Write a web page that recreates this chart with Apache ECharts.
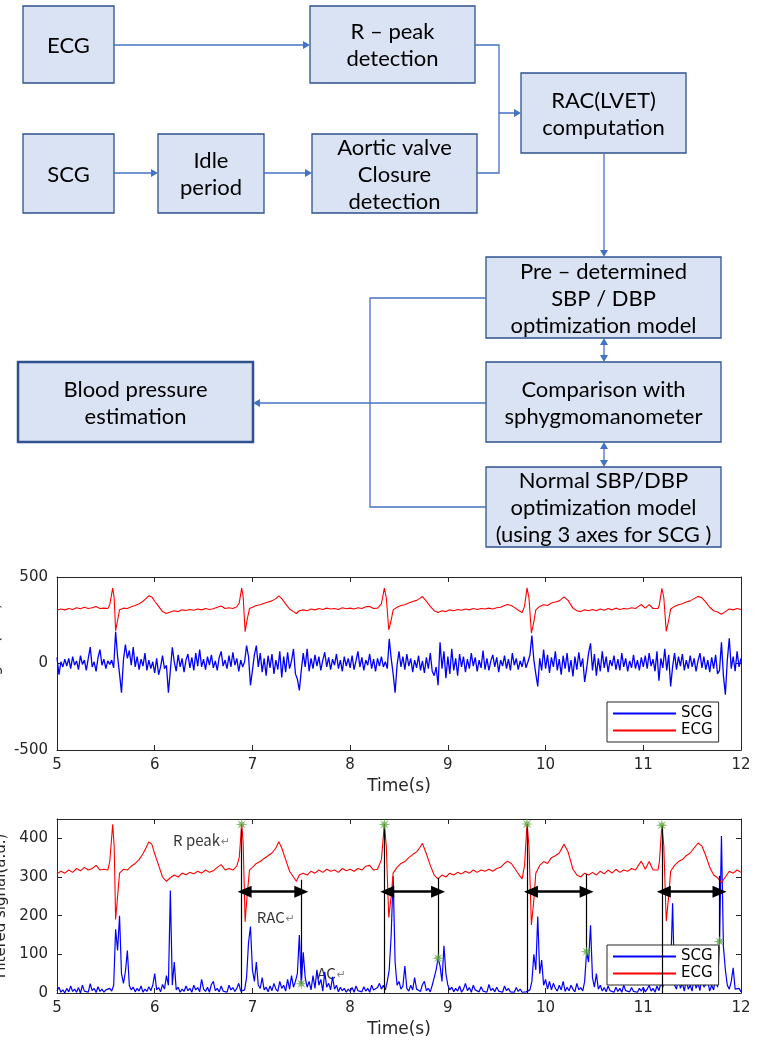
<!DOCTYPE html>
<html>
<head>
<meta charset="utf-8">
<script src="https://cdn.jsdelivr.net/npm/echarts@6/dist/echarts.min.js"></script>
<style>
  html, body { margin: 0; padding: 0; background: #fff; }
  #main { width: 758px; height: 1040px; }
</style>
</head>
<body>
<div id="main"></div>
<script>
// ---- data ----
// SCG is sampled every 0.02 s from t = 5 s
const sampleStart = 5;
const samplePeriod = 0.02;

// raw SCG (upper panel)
const scgRaw = [
  35,-65,10,-20,25,-15,30,-30,40,-10,15,-35,45,-5,20,-40,30,95,-20,10,-45,35,80,-10,25,
  -30,15,-5,20,-25,184,40,-60,-169,20,110,30,75,-10,95,-20,40,-35,25,-15,60,-40,20,-30,10,
  -55,30,-65,-20,45,-30,-10,-169,-40,94,10,-45,50,-20,30,-50,20,55,-25,35,-40,60,-15,80,-20,
  25,-35,40,-10,50,-25,15,-40,35,70,-15,20,-30,45,-20,65,-10,30,-45,20,-20,10,103,40,-126,
  -40,50,103,-20,60,-50,30,-70,45,-25,55,-60,20,-35,70,-80,40,-50,65,-30,15,84,-60,-90,-155,
  -40,60,-20,85,-45,30,-30,50,-15,40,-40,20,65,-20,35,-35,25,-10,55,-30,20,-45,40,-15,30,
  -25,45,-35,15,70,-20,35,-40,20,-10,55,-30,25,-45,30,-15,40,-20,10,-30,142,30,-60,-169,-10,
  70,-20,40,-35,55,-15,30,-50,20,-25,45,-40,15,-55,35,-30,60,-45,-70,-20,-126,123,-30,70,-85,
  40,-60,85,-40,30,-70,55,-20,40,-50,25,-30,60,-15,35,-45,20,-25,75,-35,30,-40,15,50,-20,
  35,-50,20,-15,45,-30,25,-40,60,-10,30,-35,15,-20,40,-25,10,50,161,20,-60,-132,30,-40,80,
  -30,50,-55,35,-20,70,-40,25,-65,45,-30,60,-50,20,-75,40,-35,65,-20,30,-107,-30,60,117,-40,
  55,-70,30,-45,70,-25,40,-50,20,-15,45,-35,25,-40,60,-20,30,-45,15,-25,50,-30,20,-40,35,
  -20,45,-30,60,-15,25,-45,70,-100,30,-25,85,-40,50,-132,-20,60,-35,40,-15,55,-40,20,-30,45,
  -20,30,-45,15,60,-25,40,-35,20,-50,35,-30,50,-60,-40,123,-70,-180,20,146,-30,40,-45,70,-20,
  30
];

// filtered SCG (lower panel)
const scgFiltered = [
  5,15,2,8,0,12,3,18,4,10,2,14,0,20,5,9,2,24,6,12,1,16,4,10,2,
  8,3,12,5,20,165,110,200,50,25,55,110,20,8,15,3,12,5,18,2,10,4,16,6,20,
  50,8,14,3,22,10,45,20,265,20,80,8,15,2,10,4,18,6,12,2,20,8,14,3,35,
  10,4,15,2,22,30,6,12,3,18,5,10,2,20,8,14,4,12,25,5,2,8,40,130,172,
  60,30,80,20,12,40,8,15,3,18,6,25,10,4,30,12,20,5,35,10,45,15,30,50,150,
  24,105,40,15,30,8,45,12,60,20,35,5,55,15,25,8,42,10,20,3,15,6,12,2,10,
  4,14,2,18,6,10,3,16,5,12,2,20,8,4,14,25,10,20,8,30,60,150,302,80,20,
  30,10,18,70,12,5,20,8,40,10,15,4,22,30,6,12,3,20,40,60,90,70,30,122,50,
  20,8,15,3,12,5,18,2,10,25,6,14,2,20,8,12,3,16,5,10,2,22,6,12,3,
  15,5,10,2,18,6,12,3,8,2,14,4,10,2,6,3,8,8,30,100,60,198,50,85,20,
  35,10,30,8,25,12,5,20,8,30,4,15,6,20,10,3,25,8,14,5,30,107,80,175,40,
  15,50,10,20,5,14,3,18,6,10,2,15,4,12,2,20,6,10,3,14,4,8,2,12,5,
  15,3,10,20,5,12,2,18,6,25,15,40,80,30,60,232,20,10,40,12,25,5,35,10,20,
  5,45,12,25,6,50,15,10,30,5,20,8,40,15,133,406,120,60,20,10,30,65,10,5,12,
  3
];

// ECG [time, value], same trace in both panels
const ecg = [
  [5.00,308],[5.04,315],[5.08,310],[5.12,318],[5.16,312],[5.20,322],[5.24,316],[5.28,325],[5.32,318],[5.36,322],
  [5.40,330],[5.44,318],[5.48,320],[5.52,318],[5.54,340],[5.57,436],[5.585,380],[5.60,190],[5.62,250],[5.64,310],
  [5.68,320],[5.72,318],[5.76,328],[5.80,335],[5.84,345],[5.88,360],[5.91,375],[5.94,391],[5.97,385],[6.00,360],
  [6.04,330],[6.08,300],[6.12,289],[6.16,298],[6.20,305],[6.24,300],[6.28,310],[6.32,306],[6.36,312],[6.40,308],
  [6.44,315],[6.48,310],[6.52,318],[6.56,312],[6.60,316],[6.64,325],[6.68,332],[6.72,318],[6.76,322],[6.80,318],
  [6.84,328],[6.865,350],[6.89,436],[6.905,390],[6.925,184],[6.945,250],[6.97,318],[7.00,325],[7.04,335],[7.08,340],
  [7.12,348],[7.16,355],[7.20,362],[7.24,375],[7.27,391],[7.30,375],[7.34,345],[7.38,315],[7.42,300],[7.45,289],
  [7.48,305],[7.52,310],[7.56,305],[7.60,315],[7.64,310],[7.68,318],[7.72,312],[7.76,320],[7.80,315],[7.84,318],
  [7.88,312],[7.92,322],[7.96,316],[8.00,320],[8.04,315],[8.08,322],[8.12,318],[8.16,328],[8.20,330],[8.24,318],
  [8.28,320],[8.32,345],[8.35,436],[8.37,380],[8.395,195],[8.42,250],[8.44,310],[8.48,325],[8.52,335],[8.56,340],
  [8.60,350],[8.64,358],[8.68,365],[8.71,375],[8.74,387],[8.78,360],[8.82,330],[8.86,305],[8.90,295],[8.94,305],
  [8.98,300],[9.02,310],[9.06,305],[9.10,312],[9.14,308],[9.18,315],[9.22,310],[9.26,318],[9.30,312],[9.34,318],
  [9.38,315],[9.42,320],[9.46,315],[9.50,322],[9.54,325],[9.58,335],[9.61,341],[9.65,335],[9.69,320],[9.73,305],
  [9.76,295],[9.785,330],[9.81,437],[9.83,380],[9.855,176],[9.88,240],[9.90,310],[9.94,330],[9.98,340],[10.02,335],
  [10.06,350],[10.10,355],[10.14,362],[10.19,385],[10.23,365],[10.28,320],[10.32,305],[10.36,300],[10.40,310],[10.44,305],
  [10.48,312],[10.52,305],[10.56,315],[10.60,308],[10.64,318],[10.68,310],[10.72,320],[10.76,312],[10.80,318],[10.84,315],
  [10.88,322],[10.92,318],[10.95,330],[10.98,341],[11.02,320],[11.06,340],[11.10,318],[11.15,318],[11.165,340],[11.19,434],
  [11.21,380],[11.235,186],[11.26,250],[11.28,315],[11.32,330],[11.36,340],[11.40,345],[11.44,355],[11.48,362],[11.52,375],
  [11.56,388],[11.60,380],[11.64,355],[11.68,325],[11.72,305],[11.76,298],[11.80,285],[11.84,300],[11.88,315],[11.92,310],
  [11.96,318],[12.00,312]
];

// detected points in the lower panel
const rPeakTimes  = [6.89, 8.35, 9.81, 11.19];
const rPeakValues = [436, 436, 437, 434];
const acTimes     = [7.50, 8.90, 10.42, 11.78];
const acValues    = [24, 90, 107, 133];
const acLineTops  = [293, 298, 307, 303];
const racStart    = [6.92, 8.38, 9.85, 11.21];
const racLevel    = 262;

const annoText   = ['R peak', 'RAC', 'AC'];
const annoTimes  = [6.48, 7.24, 7.81];
const annoValues = [396, 197, 52];

// flowchart labels
const flowLabels = [
  'ECG', 'R \u2013 peak\ndetection', 'RAC(LVET)\ncomputation',
  'SCG', 'Idle\nperiod', 'Aortic valve\nClosure\ndetection',
  'Pre \u2013 determined\nSBP / DBP\noptimization model',
  'Blood pressure\nestimation',
  'Comparison with\nsphygmomanometer',
  'Normal SBP/DBP\noptimization model\n(using 3 axes for SCG )'
];

// ---- layout ----
const flowBoxes = [
  [23, 6, 91, 77], [310, 6, 165, 77], [521, 73, 165, 80],
  [23, 134, 91, 79], [158, 134, 106, 79], [312, 134, 165, 79],
  [486, 257, 235, 81], [18, 362, 235, 80], [486, 362, 235, 80], [486, 467, 235, 80]
];
const flowLine = '#4472c4';

function head(x, y, dir) {
  const L = 7, W = 4;
  let pts;
  if (dir === 'r') pts = [[x, y], [x - L, y - W], [x - L, y + W]];
  if (dir === 'l') pts = [[x, y], [x + L, y - W], [x + L, y + W]];
  if (dir === 'd') pts = [[x, y], [x - W, y - L], [x + W, y - L]];
  if (dir === 'u') pts = [[x, y], [x - W, y + L], [x + W, y + L]];
  return { type: 'polygon', shape: { points: pts }, style: { fill: flowLine } };
}
function wire(points) {
  return { type: 'polyline', shape: { points: points }, style: { stroke: flowLine, lineWidth: 1.3, fill: null } };
}

const graphics = [];
flowBoxes.forEach((b, i) => {
  graphics.push({
    type: 'rect', shape: { x: b[0], y: b[1], width: b[2], height: b[3] },
    style: { fill: '#dae3f3', stroke: '#2f528f', lineWidth: i === 7 ? 2.5 : 1.3 }
  });
  graphics.push({
    type: 'text', x: b[0] + b[2] / 2, y: b[1] + b[3] / 2 + 1,
    style: { text: flowLabels[i], font: '22px Lato', fill: '#000', align: 'center', verticalAlign: 'middle', lineHeight: 27 }
  });
});
graphics.push(
  wire([[114, 45], [304, 45]]), head(310, 45, 'r'),
  wire([[475, 45], [499, 45], [499, 113], [515, 113]]), head(521, 113, 'r'),
  wire([[477, 173], [499, 173], [499, 113]]),
  wire([[114, 173], [152, 173]]), head(158, 173, 'r'),
  wire([[264, 173], [306, 173]]), head(312, 173, 'r'),
  wire([[604, 153], [604, 251]]), head(604, 257, 'd'),
  wire([[604, 344], [604, 356]]), head(604, 338, 'u'), head(604, 362, 'd'),
  wire([[604, 448], [604, 461]]), head(604, 442, 'u'), head(604, 467, 'd'),
  wire([[486, 403], [259, 403]]), head(253, 403, 'l'),
  wire([[486, 298], [370, 298], [370, 507], [486, 507]])
);

// ---- series data built from the arrays above ----
const toPts = arr => arr.map((v, i) => [+(sampleStart + i * samplePeriod).toFixed(2), v]);
const rLines = rPeakTimes.map((t, i) => [{ coord: [t, 0] }, { coord: [t, rPeakValues[i]] }]);
const acLines = acTimes.map((t, i) => [{ coord: [t, acValues[i]] }, { coord: [t, acLineTops[i]] }]);
const racArrows = racStart.map((t, i) => [{ coord: [t, racLevel] }, { coord: [acTimes[i], racLevel] }]);
const stars = rPeakTimes.map((t, i) => [t, rPeakValues[i]]).concat(acTimes.map((t, i) => [t, acValues[i]]));
const annos = annoText.map((s, i) => [annoTimes[i], annoValues[i], s]);

const axisColor = '#262626';
const tickFont = { color: axisColor, fontSize: 15, fontFamily: 'DejaVu Sans' };
function xAx(grid, top, named) {
  return {
    type: 'value', gridIndex: grid, position: top ? 'top' : 'bottom', min: 5, max: 12, interval: 1,
    name: named ? 'Time(s)' : '', nameLocation: 'middle', nameGap: 28,
    nameTextStyle: { color: axisColor, fontSize: 17, fontFamily: 'DejaVu Sans' },
    axisLine: { onZero: false, lineStyle: { color: axisColor, width: 1 } },
    axisTick: { inside: true, length: 5, lineStyle: { color: axisColor } },
    axisLabel: Object.assign({ show: !top, margin: 8 }, tickFont),
    splitLine: { show: false }
  };
}
function yAx(grid, right, min, max, interval, name, gap) {
  return {
    type: 'value', gridIndex: grid, position: right ? 'right' : 'left', min: min, max: max, interval: interval,
    name: right ? '' : name, nameLocation: 'middle', nameGap: gap,
    nameTextStyle: { color: axisColor, fontSize: 15, fontFamily: 'DejaVu Sans' },
    axisLine: { show: true, onZero: false, lineStyle: { color: axisColor, width: 1 } },
    axisTick: { show: true, inside: true, length: 5, lineStyle: { color: axisColor } },
    axisLabel: Object.assign({ show: !right, margin: 9, showMaxLabel: max === 500 }, tickFont),
    splitLine: { show: false }
  };
}
function legendAt(top) {
  return {
    data: ['SCG', 'ECG'], orient: 'vertical', left: 607, top: top, padding: [4, 6, 4, 6],
    itemGap: 2, itemWidth: 63, itemHeight: 14, selectedMode: false,
    icon: 'path://M0,0L63,0L63,2L0,2Z',
    borderColor: axisColor, borderWidth: 1, backgroundColor: '#fff',
    textStyle: { color: '#000', fontSize: 15, fontFamily: 'DejaVu Sans' }
  };
}

const chart = echarts.init(document.getElementById('main'));
chart.setOption({
  animation: false,
  backgroundColor: '#fff',
  graphic: graphics,
  grid: [
    { left: 57, right: 17, top: 577, height: 173, containLabel: false, outerBoundsMode: 'none' },
    { left: 57, right: 17, top: 819, height: 174, containLabel: false, outerBoundsMode: 'none' }
  ],
  legend: [legendAt(702), legendAt(945)],
  xAxis: [xAx(0, false, true), xAx(0, true, false), xAx(1, false, true), xAx(1, true, false)],
  yAxis: [
    yAx(0, false, -500, 500, 500, 'Raw signal(a.u.)', 52),
    yAx(0, true, -500, 500, 500, '', 0),
    yAx(1, false, 0, 450, 100, 'Filtered signal(a.u.)', 46),
    yAx(1, true, 0, 450, 100, '', 0)
  ],
  series: [
    { name: 'SCG', type: 'line', xAxisIndex: 0, yAxisIndex: 0, data: toPts(scgRaw), symbol: 'none',
      lineStyle: { color: '#0000ff', width: 1.3 }, itemStyle: { color: '#0000ff' } },
    { name: 'ECG', type: 'line', xAxisIndex: 0, yAxisIndex: 0, data: ecg, symbol: 'none',
      lineStyle: { color: '#ff0000', width: 1.1 }, itemStyle: { color: '#ff0000' } },
    { name: 'SCG', type: 'line', xAxisIndex: 2, yAxisIndex: 2, data: toPts(scgFiltered), symbol: 'none',
      lineStyle: { color: '#0000ff', width: 1.2 }, itemStyle: { color: '#0000ff' } },
    { name: 'ECG', type: 'line', xAxisIndex: 2, yAxisIndex: 2, data: ecg, symbol: 'none',
      lineStyle: { color: '#ff0000', width: 1.1 }, itemStyle: { color: '#ff0000' } },
    { name: 'marks', type: 'line', xAxisIndex: 2, yAxisIndex: 2, data: [], silent: true,
      markLine: {
        silent: true, symbol: 'none', animation: false, label: { show: false },
        lineStyle: { color: '#000', width: 1.2, type: 'solid' },
        emphasis: { disabled: true },
        data: rLines.concat(acLines)
      } },
    { name: 'rac', type: 'line', xAxisIndex: 2, yAxisIndex: 2, data: [], silent: true,
      markLine: {
        silent: true, symbol: ['triangle', 'triangle'], symbolSize: [12, 14], animation: false,
        label: { show: false }, emphasis: { disabled: true },
        lineStyle: { color: '#000', width: 2.5, type: 'solid' },
        itemStyle: { color: '#000' },
        data: racArrows
      } },
    { name: 'points', type: 'scatter', xAxisIndex: 2, yAxisIndex: 2, data: stars, silent: true, z: 5,
      symbol: 'path://M5,0L1.6,0.7L3.54,3.54L0.7,1.6L0,5L-0.7,1.6L-3.54,3.54L-1.6,0.7L-5,0L-1.6,-0.7L-3.54,-3.54L-0.7,-1.6L0,-5L0.7,-1.6L3.54,-3.54L1.6,-0.7Z',
      symbolSize: 12, itemStyle: { color: '#5ea83e' } },
    { name: 'notes', type: 'scatter', xAxisIndex: 2, yAxisIndex: 2, data: annos, silent: true,
      symbolSize: 0,
      label: {
        show: true, position: 'inside',
        formatter: p => '{a|' + p.data[2] + '}{b|\u21b5}',
        rich: {
          a: { fontSize: 15, color: '#000', fontFamily: 'Noto Sans CJK SC' },
          b: { fontSize: 11, color: '#666', fontFamily: 'DejaVu Sans', padding: [4, 0, 0, 1] }
        }
      } }
  ]
});
</script>
</body>
</html>
